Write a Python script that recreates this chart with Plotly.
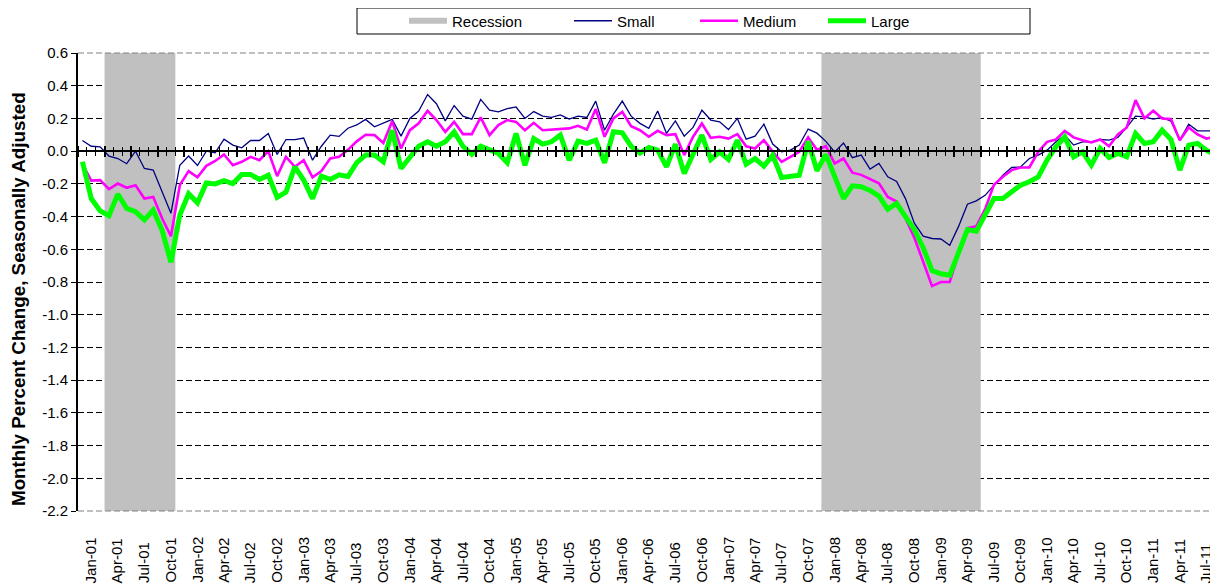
import plotly.graph_objects as go

# ---------------- data ----------------
MONTH_NAMES = ["Jan", "Feb", "Mar", "Apr", "May", "Jun", "Jul", "Aug", "Sep", "Oct", "Nov", "Dec"]
MONTHS = [f"{m}-{y:02d}" for y in range(1, 12) for m in MONTH_NAMES][:129]  # Jan-01 .. Sep-11

TICK_LABELS = [
    "Jan-01", "Apr-01", "Jul-01", "Oct-01", "Jan-02", "Apr-02", "Jul-02", "Oct-02",
    "Jan-03", "Apr-03", "Jul-03", "Oct-03", "Jan-04", "Apr-04", "Jul-04", "Oct-04",
    "Jan-05", "Apr-05", "Jul-05", "Oct-05", "Jan-06", "Apr-06", "Jul-06", "Oct-06",
    "Jan-07", "Apr-07", "Jul-07", "Oct-07", "Jan-08", "Apr-08", "Jul-08", "Oct-08",
    "Jan-09", "Apr-09", "Jul-09", "Oct-09", "Jan-10", "Apr-10", "Jul-10", "Oct-10",
    "Jan-11", "Apr-11", "Jul-11",
]

RECESSION_PERIODS = [("Apr-01", "Nov-01"), ("Jan-08", "Jun-09")]

Y_TITLE = "Monthly Percent Change, Seasonally Adjusted"

SMALL = [
    0.065, 0.030, 0.026, -0.030, -0.045, -0.077, 0.000, -0.106, -0.116, -0.250,
    -0.380, -0.086, -0.030, -0.088, 0.000, -0.010, 0.073, 0.037, 0.020, 0.065,
    0.065, 0.108, -0.020, 0.071, 0.071, 0.080, -0.055, 0.030, 0.098, 0.090,
    0.140, 0.160, 0.194, 0.149, 0.170, 0.194, 0.092, 0.200, 0.245, 0.346,
    0.290, 0.185, 0.279, 0.214, 0.196, 0.316, 0.250, 0.240, 0.260, 0.270,
    0.200, 0.242, 0.214, 0.206, 0.222, 0.196, 0.214, 0.206, 0.306, 0.128,
    0.226, 0.306, 0.214, 0.170, 0.139, 0.245, 0.108, 0.185, 0.092, 0.145,
    0.250, 0.190, 0.179, 0.132, 0.200, 0.073, 0.092, 0.165, 0.043, -0.004,
    0.006, 0.037, 0.135, 0.110, 0.060, -0.005, 0.050, -0.040, -0.024, -0.110,
    -0.075, -0.157, -0.185, -0.290, -0.440, -0.520, -0.534, -0.537, -0.575, -0.460,
    -0.324, -0.304, -0.270, -0.205, -0.147, -0.100, -0.096, -0.045, -0.024, 0.006,
    0.057, 0.098, 0.037, 0.057, 0.057, 0.071, 0.067, 0.084, 0.145, 0.214,
    0.210, 0.196, 0.206, 0.183, 0.067, 0.165, 0.124, 0.124, 0.124,
]

MEDIUM = [
    -0.080, -0.180, -0.177, -0.232, -0.198, -0.224, -0.208, -0.290, -0.280, -0.410,
    -0.520, -0.208, -0.122, -0.160, -0.090, -0.060, -0.020, -0.086, -0.065, -0.035,
    -0.055, 0.000, -0.153, -0.035, -0.096, -0.055, -0.160, -0.122, -0.045, -0.035,
    0.008, 0.060, 0.100, 0.098, 0.050, 0.183, 0.016, 0.128, 0.170, 0.247,
    0.190, 0.118, 0.179, 0.104, 0.104, 0.206, 0.098, 0.159, 0.190, 0.179,
    0.128, 0.173, 0.128, 0.132, 0.132, 0.139, 0.155, 0.132, 0.257, 0.088,
    0.200, 0.240, 0.153, 0.128, 0.088, 0.124, 0.098, 0.104, -0.024, 0.088,
    0.169, 0.081, 0.088, 0.077, 0.104, 0.030, 0.016, 0.067, -0.004, -0.065,
    -0.035, -0.004, 0.084, 0.008, 0.030, -0.075, -0.045, -0.132, -0.145, -0.170,
    -0.196, -0.280, -0.308, -0.410, -0.530, -0.676, -0.825, -0.800, -0.800, -0.625,
    -0.470, -0.460, -0.355, -0.205, -0.157, -0.116, -0.100, -0.100, -0.004, 0.057,
    0.071, 0.124, 0.084, 0.067, 0.053, 0.071, 0.030, 0.102, 0.145, 0.312,
    0.200, 0.247, 0.200, 0.196, 0.067, 0.145, 0.102, 0.077, 0.088,
]

LARGE = [
    -0.065, -0.290, -0.365, -0.395, -0.263, -0.350, -0.370, -0.420, -0.360, -0.483,
    -0.680, -0.390, -0.260, -0.316, -0.194, -0.200, -0.180, -0.198, -0.143, -0.143,
    -0.173, -0.147, -0.283, -0.250, -0.096, -0.177, -0.290, -0.153, -0.173, -0.145,
    -0.155, -0.070, -0.024, -0.024, -0.065, 0.128, -0.106, -0.035, 0.030, 0.057,
    0.030, 0.057, 0.118, 0.030, -0.020, 0.030, 0.006, -0.014, -0.071, 0.108,
    -0.086, 0.077, 0.043, 0.057, 0.098, -0.055, 0.061, 0.047, 0.067, -0.071,
    0.118, 0.112, 0.030, -0.012, 0.022, 0.006, -0.096, 0.043, -0.137, -0.014,
    0.098, -0.051, -0.004, -0.051, 0.067, -0.080, -0.045, -0.092, -0.024, -0.161,
    -0.153, -0.147, 0.060, -0.120, -0.020, -0.157, -0.290, -0.212, -0.218, -0.240,
    -0.275, -0.355, -0.320, -0.400, -0.480, -0.590, -0.730, -0.750, -0.758, -0.620,
    -0.480, -0.490, -0.390, -0.290, -0.290, -0.250, -0.208, -0.187, -0.157, -0.055,
    0.026, 0.088, -0.035, -0.004, -0.086, 0.016, -0.039, -0.014, -0.035, 0.108,
    0.047, 0.057, 0.128, 0.071, -0.116, 0.037, 0.047, 0.006, -0.024,
]

Y_TICKS = [0.6, 0.4, 0.2, 0.0, -0.2, -0.4, -0.6, -0.8, -1.0, -1.2, -1.4, -1.6, -1.8, -2.0, -2.2]
Y_LABELS = [f"{v:.1f}" for v in Y_TICKS]
Y_MIN, Y_MAX = -2.2, 0.6

# ---------------- geometry (page pixels; the page body has an 8px margin) ----------------
PAGE_OFF = 8
W, H = 1218 - PAGE_OFF, 587 - PAGE_OFF
L, R, T, B = 78, 1218, 53, 511          # plot area in page pixels
PX_PER_MONTH = 8.85
X_RANGE = [-0.5, -0.5 + (R - L) / PX_PER_MONTH]
LABEL_SHIFT = 0.9                        # rotated labels sit slightly right of the category centre
LABEL_BOTTOM = 584                       # rotated labels start (bottom-aligned) here

def px_x(p):
    return (p - L) / (R - L)

def px_y(p):
    return (B - p) / (B - T)

FONT = "Liberation Sans, Arial, sans-serif"
idx = list(range(len(MONTHS)))

# recession shading polygons built from the period list
rx, ry = [], []
for s, e in RECESSION_PERIODS:
    i0, i1 = MONTHS.index(s) - 0.5, MONTHS.index(e) + 0.5
    rx += [i0, i1, i1, i0, i0, None]
    ry += [Y_MIN, Y_MIN, Y_MAX, Y_MAX, Y_MIN, None]

fig = go.Figure()
fig.add_trace(go.Scatter(x=rx, y=ry, mode="none", fill="toself", fillcolor="#C0C0C0",
                         name="Recession", legend="legend", hoverinfo="skip"))
fig.add_trace(go.Scatter(x=idx, y=SMALL, mode="lines", name="Small", legend="legend2",
                         line=dict(color="#000080", width=1.3)))
fig.add_trace(go.Scatter(x=idx, y=MEDIUM, mode="lines", name="Medium", legend="legend3",
                         line=dict(color="#FF00FF", width=2.6)))
fig.add_trace(go.Scatter(x=idx, y=LARGE, mode="lines", name="Large", legend="legend4",
                         line=dict(color="#00FF00", width=5)))
# invisible helpers so the zero-crossing tick axes are drawn
for ax in ("x2", "x3"):
    fig.add_trace(go.Scatter(x=idx, y=SMALL, xaxis=ax, yaxis="y", mode="lines",
                             line=dict(width=0), opacity=0, showlegend=False, hoverinfo="skip"))

zero_pos = (0 - Y_MIN) / (Y_MAX - Y_MIN)

tick_common = dict(
    overlaying="x", anchor="free", position=zero_pos, range=X_RANGE,
    tickmode="linear", tick0=-0.5, dtick=3, ticks="outside", ticklen=5, tickwidth=1.5,
    tickcolor="black", showticklabels=False, showgrid=False, zeroline=False,
    minor=dict(ticks="outside", tick0=-0.5, dtick=1, ticklen=4, tickwidth=1, tickcolor="black"),
)

legend_common = dict(orientation="h", yanchor="middle", xanchor="left",
                     bgcolor="rgba(0,0,0,0)", borderwidth=0, itemwidth=38,
                     font=dict(family=FONT, size=15, color="black"))
ly = px_y(21)

border_lines = [dict(type="line", xref="paper", yref="paper", x0=0, x1=1, y0=yy, y1=yy,
                     line=dict(color="#808080", width=1, dash="6px,3px")) for yy in (0, 1)]

# category labels: rotated, bottom-aligned like the original
annotations = [
    dict(x=MONTHS.index(t) + LABEL_SHIFT, xref="x", y=px_y(LABEL_BOTTOM), yref="paper",
         text=t, textangle=-90, xanchor="center", yanchor="bottom", showarrow=False,
         borderpad=0, font=dict(family=FONT, size=15, color="black"))
    for t in TICK_LABELS
]
# vertical axis title
annotations.append(dict(x=px_x(18), xref="paper", y=px_y(299), yref="paper",
                        text=f"<b>{Y_TITLE}</b>", textangle=-90, xanchor="center",
                        yanchor="middle", showarrow=False,
                        font=dict(family=FONT, size=18.8, color="black")))

fig.update_layout(
    width=W, height=H,
    margin=dict(l=L - PAGE_OFF, r=1218 - R, t=T - PAGE_OFF, b=587 - B, autoexpand=False),
    paper_bgcolor="white", plot_bgcolor="white",
    font=dict(family=FONT, size=15, color="black"),
    hovermode=False,
    xaxis=dict(range=X_RANGE, showticklabels=False, ticks="", showline=False,
               showgrid=False, zeroline=False, automargin=False),
    xaxis2=dict(side="bottom", showline=True, linecolor="black", linewidth=2, **tick_common),
    xaxis3=dict(side="top", showline=False, **tick_common),
    yaxis=dict(range=[Y_MIN, Y_MAX], tickmode="array", tickvals=Y_TICKS, ticktext=Y_LABELS,
               showgrid=True, gridcolor="black", griddash="6px,3px", gridwidth=1,
               showline=True, linecolor="black", linewidth=2,
               ticks="outside", ticklen=5, tickcolor="black", zeroline=False,
               tickfont=dict(family=FONT, size=15), automargin=False),
    legend=dict(x=px_x(404), y=ly, **legend_common),
    legend2=dict(x=px_x(569), y=ly, **legend_common),
    legend3=dict(x=px_x(695), y=ly, **legend_common),
    legend4=dict(x=px_x(823), y=ly, **legend_common),
    annotations=annotations,
    shapes=border_lines + [dict(type="rect", xref="paper", yref="paper",
                 x0=px_x(357), x1=px_x(1030), y0=px_y(34), y1=px_y(8),
                 line=dict(color="black", width=1), fillcolor="rgba(0,0,0,0)")],
)

fig.write_html("out.html")
